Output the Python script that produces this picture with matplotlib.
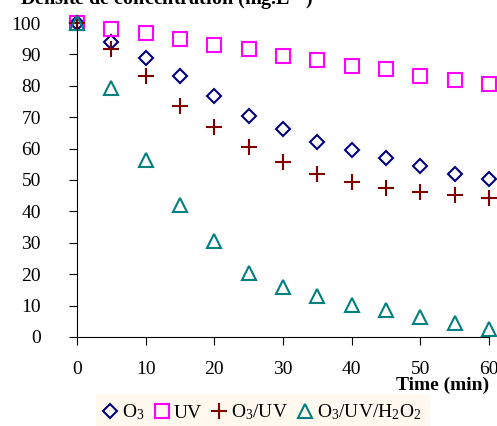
import numpy as np
import matplotlib
matplotlib.use("Agg")
import matplotlib.pyplot as plt

plt.rcParams["font.family"] = ["Liberation Serif", "DejaVu Serif"]
plt.rcParams["mathtext.default"] = "regular"

time_min = [0, 5, 10, 15, 20, 25, 30, 35, 40, 45, 50, 55, 60]

o3 = [100, 94, 89, 83.2, 76.8, 70.4, 66.1, 62.2, 59.6, 57.1, 54.5, 52, 50.2]
uv = [100, 98, 96.7, 94.8, 92.9, 91.6, 89.5, 88.2, 86.3, 85.2, 83.2, 81.9, 80.7]
o3_uv = [100, 91.6, 83.1, 73.7, 66.8, 60.4, 55.8, 52, 49.3, 47.6, 46.1, 45.1, 44.4]
o3_uv_h2o2 = [100, 79.2, 56.5, 42, 30.5, 20.5, 15.8, 13.2, 10.1, 8.6, 6.3, 4.3, 2.4]

series = [
    (o3, "D", "#000080", 7, "O$_3$"),
    (uv, "s", "#FF00FF", 10, "UV"),
    (o3_uv, "+", "#800000", 11, "O$_3$/UV"),
    (o3_uv_h2o2, "^", "#008080", 10, "O$_3$/UV/H$_2$O$_2$"),
]

fig = plt.figure(figsize=(4.97, 4.26), dpi=100)
ax = fig.add_axes([0.155, 0.209, 0.829, 0.737])

for values, marker, color, size, label in series:
    ax.plot(time_min, values, linestyle="none", marker=marker,
            markersize=size, markerfacecolor="none", markeredgecolor=color,
            markeredgewidth=1.5, label=label, clip_on=False)

ax.set_xlim(0, 60)
ax.set_ylim(0, 100)
ax.set_xticks(range(0, 61, 10))
ax.set_yticks(range(0, 101, 10))
ax.spines["top"].set_visible(False)
ax.spines["right"].set_visible(False)
ax.tick_params(labelsize=14, length=6)
ax.tick_params(axis="x", pad=11)
ax.tick_params(axis="y", pad=20)

fig.text(0.984, 0.096, "Time (min)", ha="right", va="center",
         fontsize=14, fontweight="bold")
fig.text(0.04, 1.003, "Densit\u00e9 de concentration (mg.L$^{-1}$)",
         ha="left", va="center", fontsize=14.5, fontweight="bold")

handles, labels = ax.get_legend_handles_labels()
leg = fig.legend(handles, labels, ncol=4, loc="lower left",
                 bbox_to_anchor=(0.173, -0.035), fontsize=14,
                 frameon=True, fancybox=False, facecolor="#FFF9F0",
                 edgecolor="none", framealpha=1, handlelength=0.6,
                 handletextpad=0.3, columnspacing=0.6, borderpad=0.45)

fig.savefig("out.png", dpi=100)
